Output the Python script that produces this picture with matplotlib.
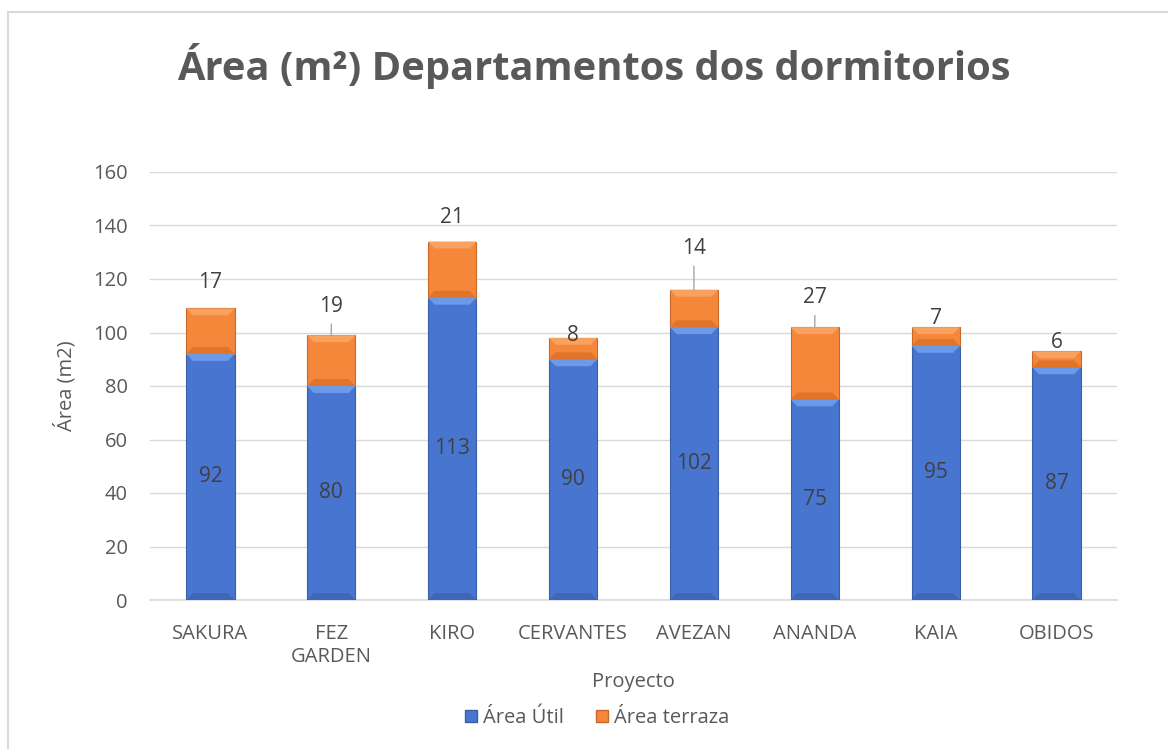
import matplotlib
matplotlib.use("Agg")
import matplotlib.pyplot as plt
from matplotlib.patches import Rectangle, Patch

plt.rcParams["font.family"] = ["Open Sans", "DejaVu Sans"]

proyectos = ["SAKURA", "FEZ\nGARDEN", "KIRO", "CERVANTES", "AVEZAN", "ANANDA", "KAIA", "OBIDOS"]
area_util = [92, 80, 113, 90, 102, 75, 95, 87]
area_terraza = [17, 19, 21, 8, 14, 27, 7, 6]
y_ticks = [0, 20, 40, 60, 80, 100, 120, 140, 160]

# label offsets above the stack (points) and whether Excel drew a leader line
terraza_offset = [19, 20.5, 17, 1.5, 29.5, 21, 6, 6]
leader = [False, True, False, False, True, True, False, False]

BLUE = "#4775cf"
ORANGE = "#f5873a"
TEXT = "#595959"
LABEL = "#404040"

fig = plt.figure(figsize=(11.68, 7.49), dpi=100)
ax = fig.add_axes([150 / 1168, 1 - 600 / 749, 967 / 1168, 428 / 749])

# outer chart border
fig.patches.append(Rectangle((8 / 1168, -0.1), 1.2, 1 - 12.5 / 749 + 0.1,
                             transform=fig.transFigure, fill=False,
                             edgecolor="#d9d9d9", linewidth=1.5))

x = list(range(len(proyectos)))
w = 0.4
b1 = ax.bar(x, area_util, w, color=BLUE, edgecolor="#3a5fa8", linewidth=0.8,
            zorder=3, label="Área Útil")
b2 = ax.bar(x, area_terraza, w, bottom=area_util, color=ORANGE,
            edgecolor="#c8692a", linewidth=0.8, zorder=3, label="Área terraza")


def bevel(bars, light, dark):
    # fake the Excel bevel: light band on top, dark band at the bottom
    for r in bars:
        x0, y0 = r.get_x(), r.get_y()
        x1, y1 = x0 + r.get_width(), y0 + r.get_height()
        dx = r.get_width() * 0.14
        dy = 2.6
        ax.fill([x0, x1, x1 - dx, x0 + dx], [y1, y1, y1 - dy, y1 - dy],
                color=light, zorder=4, linewidth=0)
        ax.fill([x0, x1, x1 - dx, x0 + dx], [y0, y0, y0 + dy, y0 + dy],
                color=dark, zorder=4, linewidth=0)


bevel(b1, "#6d9ae8", "#3e67b8")
bevel(b2, "#f9a15e", "#e0752a")

for i, v in enumerate(area_util):
    ax.text(i, v / 2, str(v), ha="center", va="center", fontsize=15,
            color=LABEL, zorder=5)

for i, (u, t) in enumerate(zip(area_util, area_terraza)):
    top = u + t
    if leader[i]:
        ax.annotate(str(t), xy=(i, top), xytext=(0, terraza_offset[i]),
                    textcoords="offset points", ha="center", va="center",
                    fontsize=15, color=LABEL, zorder=5,
                    arrowprops=dict(arrowstyle="-", color="#a6a6a6", lw=1,
                                    shrinkA=3, shrinkB=0))
    else:
        ax.annotate(str(t), xy=(i, top), xytext=(0, terraza_offset[i]),
                    textcoords="offset points", ha="center", va="center",
                    fontsize=15, color=LABEL, zorder=5)

ax.set_xlim(-0.5, len(proyectos) - 0.5)
ax.set_ylim(0, 160)
ax.set_yticks(y_ticks)
ax.set_xticks(x)
ax.set_xticklabels(proyectos)
ax.tick_params(axis="both", length=0, labelsize=14.5, colors=TEXT)
ax.tick_params(axis="x", pad=17)
ax.tick_params(axis="y", pad=16)
ax.grid(axis="y", color="#d9d9d9", linewidth=1, zorder=0)
for s in ["top", "right", "left"]:
    ax.spines[s].set_visible(False)
ax.spines["bottom"].set_color("#d9d9d9")
ax.spines["bottom"].set_linewidth(1.2)

ax.set_ylabel("Área (m2)", fontsize=14.5, color=TEXT, labelpad=12)
ax.set_xlabel("Proyecto", fontsize=14.5, color=TEXT, labelpad=4)

fig.text(594 / 1168, 1 - 66 / 749, "Área (m²) Departamentos dos dormitorios",
         ha="center", va="center", fontsize=28.7, fontweight="bold", color=TEXT)

handles = [Patch(facecolor=BLUE, edgecolor="#3a5fa8"),
           Patch(facecolor=ORANGE, edgecolor="#c8692a")]
fig.legend(handles, ["Área Útil", "Área terraza"], loc="center",
           bbox_to_anchor=(597 / 1168, 1 - 718 / 749), ncol=2, frameon=False,
           fontsize=14.5, labelcolor=TEXT, handlelength=0.6, handleheight=0.6,
           handletextpad=0.3, columnspacing=1.6)

fig.savefig("out.png", dpi=100)
